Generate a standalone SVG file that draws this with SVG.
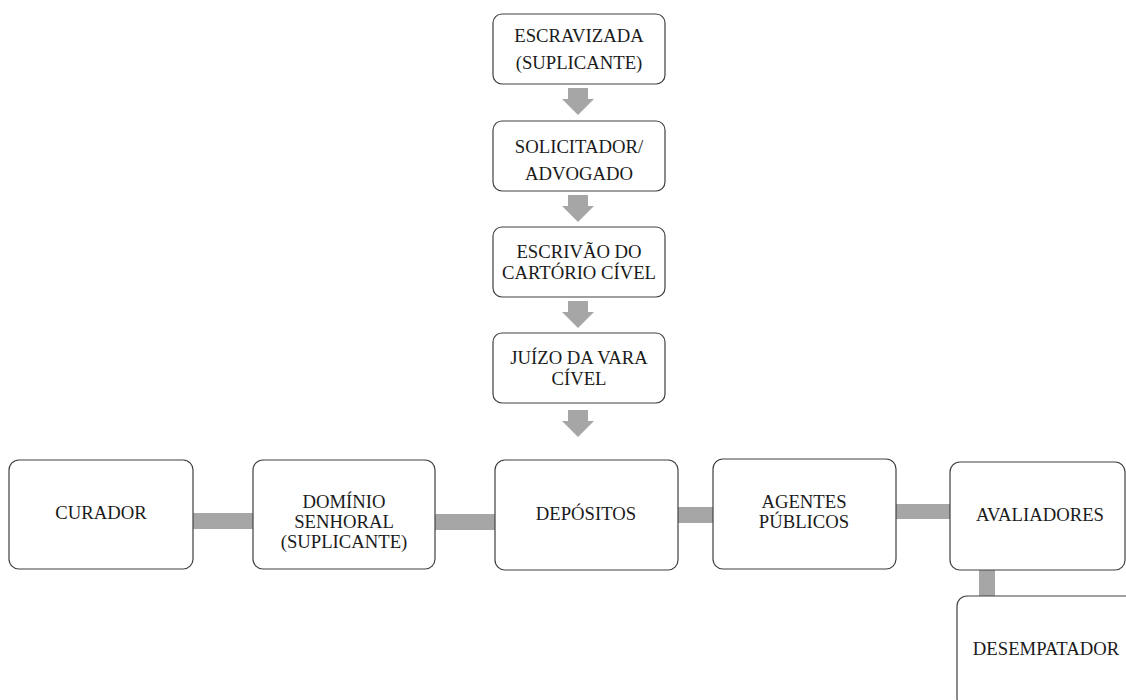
<svg xmlns="http://www.w3.org/2000/svg" width="1126" height="700" viewBox="0 0 1126 700">
<style>
.box{fill:#fff;stroke:#404040;stroke-width:1.2}
.t{font-size:18.7px;fill:#1a1a1a;text-anchor:middle}
.c{fill:#a6a6a6}
</style>
<defs>
<path id="arr" d="M-10,0 H10 V11 H16 L0,27 L-16,11 H-10 Z"/>
</defs>
<rect width="1126" height="700" fill="#fff"/>
<g id="connectors">
<use href="#arr" x="578" y="88" class="c"/>
<use href="#arr" x="578" y="195" class="c"/>
<use href="#arr" x="578" y="301" class="c"/>
<use href="#arr" x="578" y="410" class="c"/>
<rect class="c" x="193" y="513" width="60" height="16"/>
<rect class="c" x="435" y="514" width="60" height="16"/>
<rect class="c" x="678" y="507" width="35" height="16"/>
<rect class="c" x="896" y="504" width="54" height="15"/>
<rect class="c" x="979" y="570" width="16" height="27"/>
</g>
<g font-family="Liberation Serif, Times New Roman, serif">
<g id="n1"><rect class="box" x="493" y="14" width="172" height="70" rx="9"/>
<text class="t" x="579" y="42">ESCRAVIZADA</text><text class="t" x="579" y="69">(SUPLICANTE)</text></g>
<g id="n2"><rect class="box" x="493" y="121" width="172" height="70" rx="9"/>
<text class="t" x="579" y="153">SOLICITADOR/</text><text class="t" x="579" y="180">ADVOGADO</text></g>
<g id="n3"><rect class="box" x="493" y="227" width="172" height="70" rx="9"/>
<text class="t" x="579" y="258">ESCRIVÃO DO</text><text class="t" x="579" y="279">CARTÓRIO CÍVEL</text></g>
<g id="n4"><rect class="box" x="493" y="333" width="172" height="70" rx="9"/>
<text class="t" x="579" y="364">JUÍZO DA VARA</text><text class="t" x="579" y="385">CÍVEL</text></g>
<g id="n5"><rect class="box" x="9" y="460" width="184" height="109" rx="10"/>
<text class="t" x="101" y="519">CURADOR</text></g>
<g id="n6"><rect class="box" x="253" y="460" width="182" height="109" rx="10"/>
<text class="t" x="344" y="508">DOMÍNIO</text><text class="t" x="344" y="528">SENHORAL</text><text class="t" x="344" y="548">(SUPLICANTE)</text></g>
<g id="n7"><rect class="box" x="495" y="460" width="183" height="110" rx="10"/>
<text class="t" x="586" y="520">DEPÓSITOS</text></g>
<g id="n8"><rect class="box" x="713" y="459" width="183" height="110" rx="10"/>
<text class="t" x="804" y="508">AGENTES</text><text class="t" x="804" y="528">PÚBLICOS</text></g>
<g id="n9"><rect class="box" x="950" y="462" width="175" height="108" rx="10"/>
<text class="t" x="1040" y="521">AVALIADORES</text></g>
<g id="n10"><rect class="box" x="957" y="596" width="180" height="112" rx="10"/>
<text class="t" x="1046" y="655">DESEMPATADOR</text></g>
</g>
</svg>
